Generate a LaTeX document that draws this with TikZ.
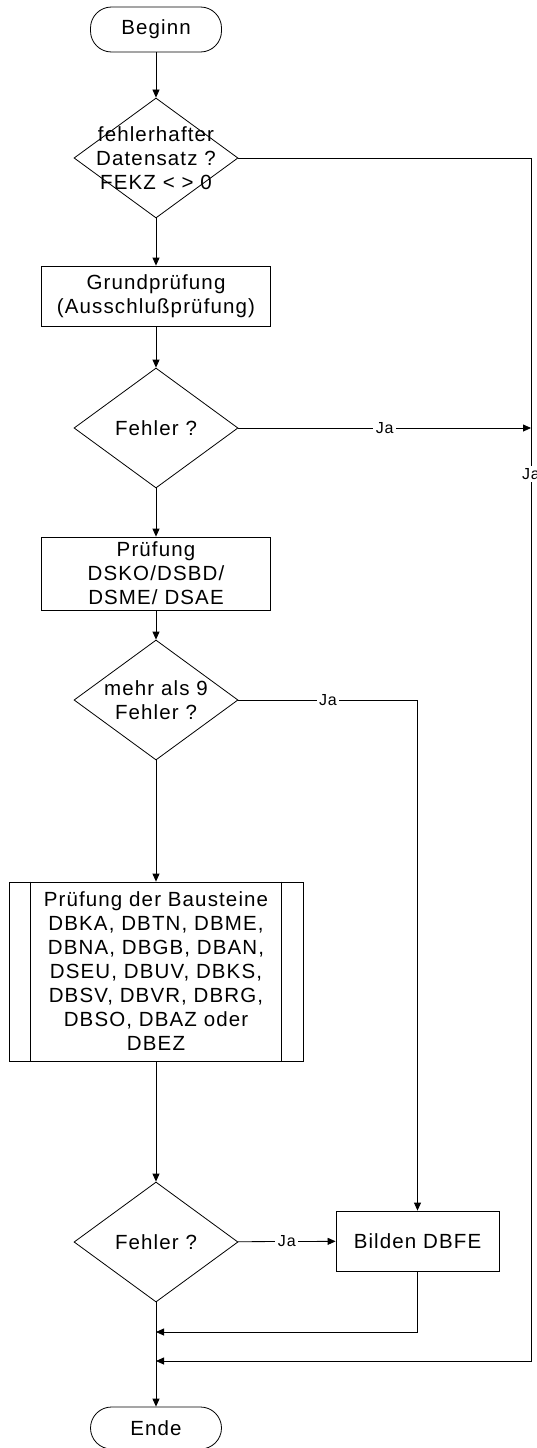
\documentclass[tikz,border=0pt]{standalone}
\usepackage{fontspec}
\setmainfont{Liberation Sans}[LetterSpace=5.5]
\usetikzlibrary{arrows.meta,calc,positioning,shapes.geometric}

\begin{document}
\begin{tikzpicture}[x=1pt,y=-1pt,
	font=\fontsize{20.5}{24}\selectfont,
	line width=0.8pt,
	>={Triangle[length=8pt,width=7pt]},
	term/.style={draw,rounded corners=21pt,minimum width=131pt,minimum height=45pt,inner sep=0pt},
	box/.style={draw,align=center,inner sep=0pt,minimum width=229pt},
	dec/.style={draw,diamond,minimum width=164pt,minimum height=120pt,inner sep=0pt},
	ja/.style={fill=white,inner sep=2.5pt,font=\fontsize{16}{18}\selectfont}]
				\useasboundingbox (0,0) rectangle (537,1448);
				% main column
				\node[term] (beginn) at (156,29.5) {Beginn};
				\node[dec,label={[align=center]center:fehlerhafter\\Datensatz ?\\FEKZ < > 0}] (fehl1) at (156,158) {};
				\node[box,minimum height=60pt] (grund) at (156,296) {Grundprüfung\\(Ausschlußprüfung)};
				\node[dec,label=center:Fehler ?] (fehl2) at (156,428) {};
				\node[box,minimum height=73pt] (dsko) at (156,573.5) {Prüfung\\DSKO/DSBD/\\DSME/ DSAE};
				\node[dec,label={[align=center]center:mehr als 9\\Fehler ?}] (mehr9) at (156,700) {};
				\node[box,minimum width=294pt,minimum height=179pt] (baust) at (156,971.5) {Prüfung der Bausteine\\DBKA, DBTN, DBME,\\DBNA, DBGB, DBAN,\\DSEU, DBUV, DBKS,\\DBSV, DBVR, DBRG,\\DBSO, DBAZ oder\\DBEZ};
				\draw ($(baust.north west)+(22,0)$) to ($(baust.south west)+(22,0)$);
				\draw ($(baust.north east)+(-22,0)$) to ($(baust.south east)+(-22,0)$);
				\node[dec,label=center:Fehler ?] (fehl3) at (156,1242) {};
				\node[box,minimum width=163pt,minimum height=60pt] (dbfe) at (417.5,1241) {Bilden DBFE};
				\node[term,minimum height=42pt] (ende) at (156,1428) {Ende};
				% corners
				\coordinate (rt) at (531,158);
				\coordinate (rb) at (531,1361);
				\coordinate (m1) at (156,1332);
				\coordinate (m2) at (156,1361);
				% arrows
				\draw[->] (beginn) to (fehl1);
				\draw[->] (fehl1) to (grund);
				\draw[->] (grund) to (fehl2);
				\draw[->] (fehl2) to (dsko);
				\draw[->] (dsko) to (mehr9);
				\draw[->] (mehr9) to (baust);
				\draw[->] (baust) to (fehl3);
				\draw[->] (fehl3) to (ende);
				\draw[->] (fehl1.east) -- (rt) -- node[ja,pos=.263] {Ja} (rb) -- (m2);
				\draw[->] (fehl2.east) -- node[ja] {Ja} (fehl2.east -| rt);
				\draw[->] (mehr9.east) -- node[ja] {Ja} (mehr9.east -| dbfe) -- (dbfe);
				\draw[->] (fehl3) -- node[ja] {Ja} (dbfe);
				\draw[->] (dbfe) |- (m1);
	\end{tikzpicture}
\end{document}
